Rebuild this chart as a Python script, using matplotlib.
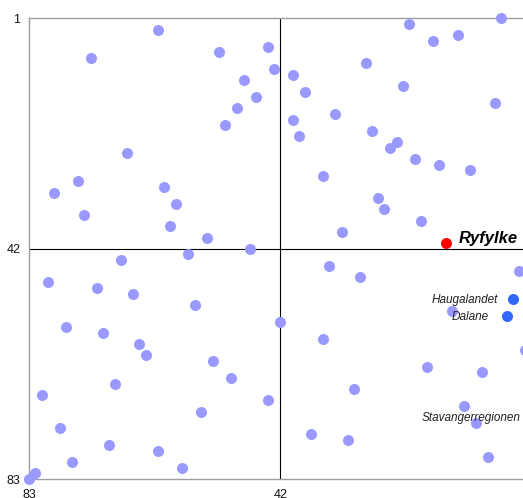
import matplotlib
matplotlib.use("Agg")
import matplotlib.pyplot as plt

plt.rcParams['font.family'] = ['Liberation Sans', 'DejaVu Sans']

# rank on the horizontal axis (83 at left) and vertical axis (1 at top)
x_rank = [62, 73, 52, 44, 43, 48, 46, 49, 51, 67, 75, 79, 61, 59, 74, 60, 54, 47, 57,
          21, 6, 13, 17, 28, 40, 38, 22, 7, 33, 40, 39, 27, 23, 24, 20, 16, 11, 35, 26, 25, 19, 32,
          68, 80, 72, 66, 56, 77, 71, 65, 64, 53, 50, 69, 81, 44, 55, 78, 70, 62, 76, 58, 82, 83,
          34, 29, 3, 14, 42, 35, 2, 18, 9, 30, 12, 10, 37, 31, 8]
y_rank = [3, 8, 7, 6, 10, 12, 15, 17, 20, 25, 30, 32, 31, 34, 36, 38, 40, 42, 43,
          2, 1, 4, 5, 9, 11, 14, 13, 16, 18, 19, 22, 21, 23, 24, 26, 27, 28, 29, 33, 35, 37, 39,
          44, 48, 49, 50, 52, 56, 57, 59, 61, 62, 65, 66, 68, 69, 71, 74, 77, 78, 80, 81, 82, 83,
          45, 47, 46, 53, 55, 58, 60, 63, 64, 67, 70, 73, 75, 76, 79]

# highlighted regions
focus_name = "Ryfylke"
focus_x, focus_y = 15, 41

other_names = ["Haugalandet", "Dalane", "Stavangerregionen"]
other_x = [4, 5, 1]
other_y = [51, 54, 72]
other_offsets = [-10.5, -13, -8]

fig = plt.figure(figsize=(5.23, 4.98), dpi=100)
ax = fig.add_axes([29.3 / 523, 19 / 498, 502 / 523, 460.5 / 498])

ax.set_xlim(83, 1)
ax.set_ylim(83, 1)

ax.axvline(42, color='black', lw=0.8, zorder=1)
ax.axhline(42, color='black', lw=0.8, zorder=1)

ax.scatter(x_rank, y_rank, s=63, color='#9999ff', linewidths=0, zorder=3, clip_on=False)
ax.scatter(other_x, other_y, s=63, color='#3366ff', linewidths=0, zorder=4, clip_on=False)
ax.scatter([focus_x], [focus_y], s=63, color='#ff0000', linewidths=0, zorder=4, clip_on=False)

for name, xv, yv, off in zip(other_names, other_x, other_y, other_offsets):
    ax.annotate(name, (xv, yv), xytext=(off, -3), textcoords='offset points',
                ha='right', va='baseline', fontsize=8.5, style='italic',
                color='#222222', zorder=5, annotation_clip=False)

ax.annotate(focus_name, (focus_x, focus_y), xytext=(9.5, 0), textcoords='offset points',
            ha='left', va='baseline', fontsize=12, style='italic', weight='bold',
            color='black', zorder=5)

ax.set_xticks([83, 42, 1])
ax.set_yticks([1, 42, 83])
ax.tick_params(axis='x', length=0, pad=7.5, labelsize=9, colors='#111111')
ax.tick_params(axis='y', length=0, pad=6.5, labelsize=9, colors='#111111')

for side in ['top', 'bottom', 'left', 'right']:
    ax.spines[side].set_color('#9c9ca4')
    ax.spines[side].set_linewidth(1.0)

fig.savefig('out.png', dpi=100)
